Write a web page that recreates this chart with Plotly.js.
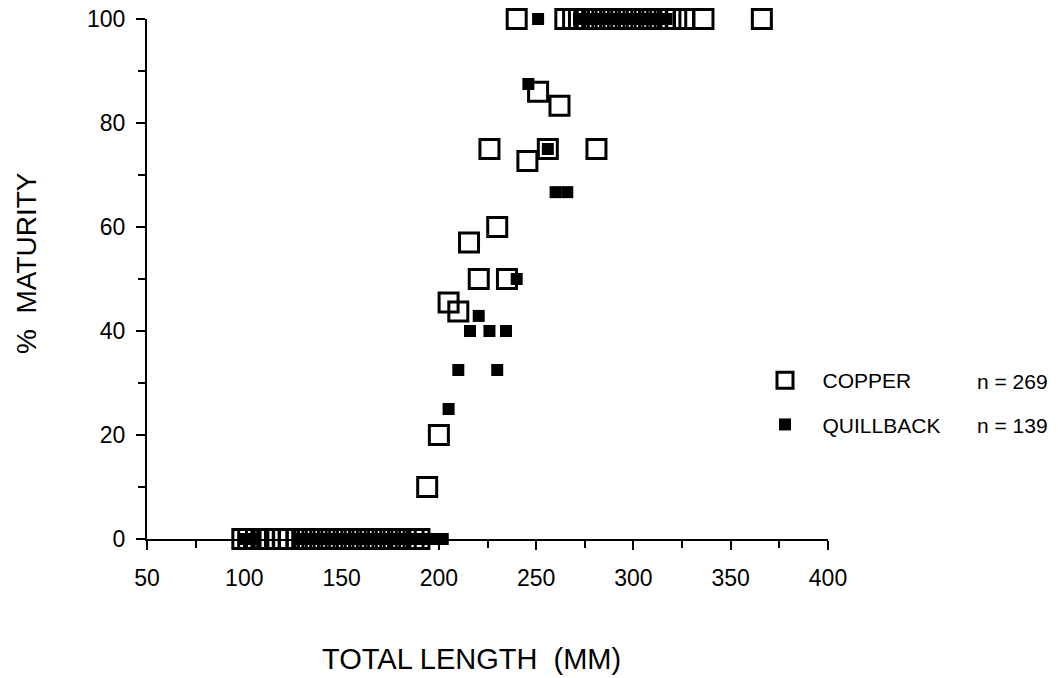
<!DOCTYPE html>
<html>
<head>
<meta charset="utf-8">
<script src="https://cdn.plot.ly/plotly-3.0.1.min.js"></script>
<style>
  html, body { margin: 0; padding: 0; background: #fff; }
  #chart { width: 1058px; height: 678px; }
</style>
</head>
<body>
<div id="chart"></div>
<script>
// ---- Data ----
// COPPER rockfish: total length (mm) vs % maturity
const copperLength = [
  99, 102, 106, 110, 113, 117, 120, 123, 127, 131, 135, 139, 143, 147, 151, 155,
  159, 163, 167, 171, 175, 179, 183, 187, 190,
  194, 200, 205, 210, 215.5, 220.5, 230, 235, 226, 245.5, 256, 251, 262, 281,
  240, 265, 269, 272, 276, 280, 284, 288, 292, 296, 300, 304, 308, 312, 316,
  319, 322, 326, 336, 366
];
const copperMaturity = [
  0, 0, 0, 0, 0, 0, 0, 0, 0, 0, 0, 0, 0, 0, 0, 0,
  0, 0, 0, 0, 0, 0, 0, 0, 0,
  10, 20, 45.5, 43.75, 57, 50, 60, 50, 75, 72.7, 75, 86, 83.3, 75,
  100, 100, 100, 100, 100, 100, 100, 100, 100, 100, 100, 100, 100, 100, 100,
  100, 100, 100, 100, 100
];
// QUILLBACK rockfish
const quillLength = [
  100, 103, 105, 128, 131, 134, 137, 140, 143, 146, 149, 152, 155, 158, 161,
  164, 167, 170, 173, 176, 179, 182, 185, 188, 191, 194, 197, 199, 202,
  205, 210, 230, 216, 226, 234.5, 220.5, 240, 256, 260, 266, 246,
  251, 272, 275, 278, 281, 284, 287, 290, 293, 296, 299, 302, 305, 308, 311, 314, 317
];
const quillMaturity = [
  0, 0, 0, 0, 0, 0, 0, 0, 0, 0, 0, 0, 0, 0, 0,
  0, 0, 0, 0, 0, 0, 0, 0, 0, 0, 0, 0, 0, 0,
  25, 32.5, 32.5, 40, 40, 40, 42.9, 50, 75, 66.7, 66.7, 87.5,
  100, 100, 100, 100, 100, 100, 100, 100, 100, 100, 100, 100, 100, 100, 100, 100, 100
];
const seriesNames = ["COPPER", "QUILLBACK"];
const sampleSizes = ["n = 269", "n = 139"];
const xTitle = "TOTAL LENGTH  (MM)";
const yTitle = "%  MATURITY";
const xTicks = [50, 100, 150, 200, 250, 300, 350, 400];
const yTicks = [0, 20, 40, 60, 80, 100];

const FONT = "'Liberation Sans', Arial, Helvetica, sans-serif";
const PAD = "\u00a0\u00a0\u00a0";

const traces = [
  {
    type: "scatter", mode: "markers", name: PAD + seriesNames[0],
    x: copperLength, y: copperMaturity, cliponaxis: false,
    marker: { symbol: "square-open", size: 19, color: "#000", line: { width: 3, color: "#000" } },
    legendgroup: "a"
  },
  {
    type: "scatter", mode: "markers", name: PAD + seriesNames[1],
    x: quillLength, y: quillMaturity, cliponaxis: false,
    marker: { symbol: "square", size: 12, color: "#000", line: { width: 0 } },
    legendgroup: "b"
  }
];

const axisCommon = {
  showline: true, linecolor: "#000", linewidth: 2,
  showgrid: false, zeroline: false,
  ticks: "outside", ticklen: 9, tickwidth: 2, tickcolor: "#000",
  tickfont: { family: FONT, size: 23, color: "#000" },
  fixedrange: true
};

const layout = {
  width: 1058, height: 678, autosize: false,
  margin: { l: 147, r: 230, t: 19, b: 139, pad: 0 },
  paper_bgcolor: "#fff", plot_bgcolor: "#fff",
  font: { family: FONT, color: "#000" },
  xaxis: Object.assign({}, axisCommon, {
    range: [50, 400], tickvals: xTicks, ticklabelstandoff: 8,
    minor: { dtick: 25, tick0: 0, ticks: "outside", ticklen: 7, tickwidth: 2, tickcolor: "#000" }
  }),
  yaxis: Object.assign({}, axisCommon, {
    range: [0, 100], tickvals: yTicks, ticklabelstandoff: 6,
    minor: { dtick: 10, tick0: 0, ticks: "outside", ticklen: 7, tickwidth: 2, tickcolor: "#000" }
  }),
  showlegend: true,
  legend: {
    x: (765 - 147) / 681, y: (539 - 360) / 520, xanchor: "left", yanchor: "top",
    font: { family: FONT, size: 21, color: "#000" },
    bgcolor: "rgba(0,0,0,0)", borderwidth: 0,
    traceorder: "grouped", tracegroupgap: 14, itemclick: false, itemdoubleclick: false
  },
  annotations: sampleSizes.map((t, i) => ({
    text: t, xref: "paper", yref: "paper",
    x: (975 - 147) / 681, y: (539 - (381 + 44 * i)) / 520,
    xanchor: "left", yanchor: "middle", showarrow: false,
    font: { family: FONT, size: 21, color: "#000" }
  })).concat([
    {
      text: xTitle, xref: "paper", yref: "paper",
      x: (471 - 147) / 681, y: (539 - 659) / 520,
      xanchor: "center", yanchor: "middle", showarrow: false,
      font: { family: FONT, size: 29, color: "#000" }
    },
    {
      text: yTitle, xref: "paper", yref: "paper", textangle: -90,
      x: (26 - 147) / 681, y: (539 - 263) / 520,
      xanchor: "center", yanchor: "middle", showarrow: false,
      font: { family: FONT, size: 28, color: "#000" }
    }
  ])
};

Plotly.newPlot("chart", traces, layout, { displayModeBar: false, staticPlot: true });
</script>
</body>
</html>
